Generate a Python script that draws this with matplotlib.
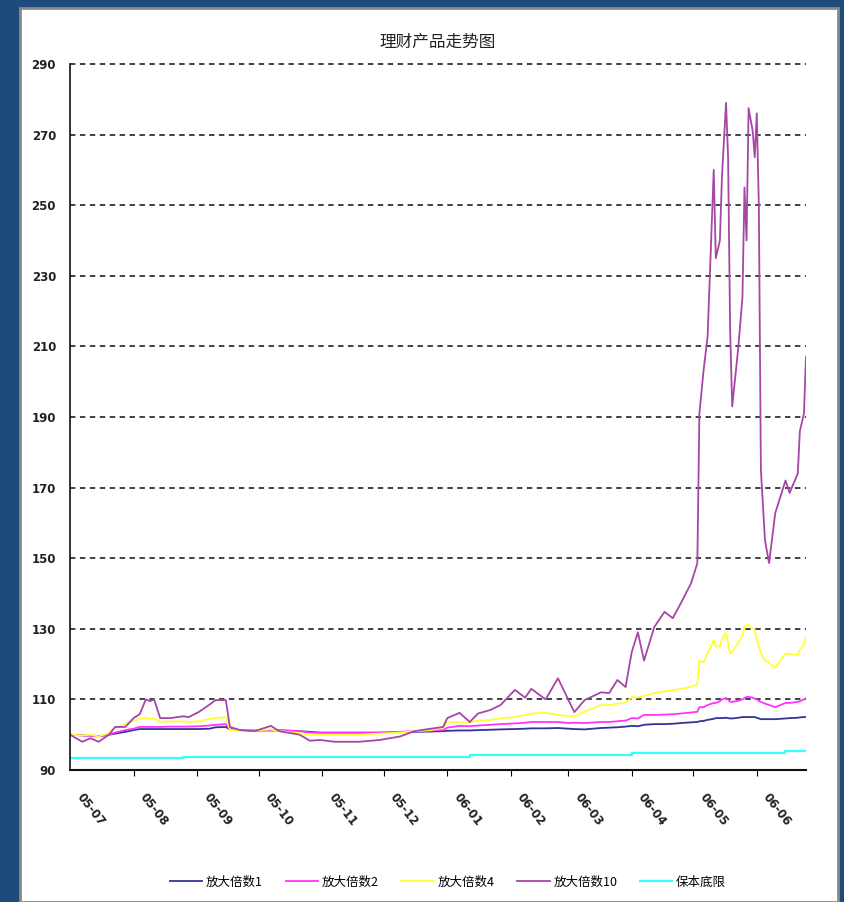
import matplotlib
matplotlib.use('Agg')
import matplotlib.pyplot as plt
from matplotlib.patches import Rectangle
import pandas as pd

# sample dates (date axis, 2005-07 .. 2006-06)
dates = ['2005-07-01', '2005-07-07', '2005-07-11', '2005-07-15', '2005-07-20', '2005-07-23',
         '2005-07-28', '2005-08-01', '2005-08-04', '2005-08-07', '2005-08-09', '2005-08-11',
         '2005-08-14', '2005-08-19', '2005-08-25', '2005-08-28', '2005-09-02', '2005-09-07',
         '2005-09-10', '2005-09-15', '2005-09-17', '2005-09-22', '2005-09-29', '2005-10-07',
         '2005-10-11', '2005-10-21', '2005-10-26', '2005-10-31', '2005-11-07', '2005-11-19',
         '2005-11-29', '2005-12-09', '2005-12-16', '2005-12-24', '2005-12-30', '2006-01-01',
         '2006-01-07', '2006-01-12', '2006-01-16', '2006-01-22', '2006-01-27', '2006-02-03',
         '2006-02-08', '2006-02-11', '2006-02-18', '2006-02-24', '2006-03-01', '2006-03-04',
         '2006-03-09', '2006-03-17', '2006-03-21', '2006-03-25', '2006-03-29', '2006-04-01',
         '2006-04-04', '2006-04-07', '2006-04-12', '2006-04-17', '2006-04-21', '2006-04-25',
         '2006-04-30', '2006-05-03', '2006-05-04', '2006-05-06', '2006-05-08', '2006-05-11',
         '2006-05-12', '2006-05-14', '2006-05-15', '2006-05-17', '2006-05-18', '2006-05-19',
         '2006-05-20', '2006-05-23', '2006-05-25', '2006-05-26', '2006-05-27', '2006-05-28',
         '2006-05-30', '2006-05-31', '2006-06-01', '2006-06-02', '2006-06-03', '2006-06-05',
         '2006-06-07', '2006-06-10', '2006-06-15', '2006-06-17', '2006-06-21', '2006-06-22',
         '2006-06-24', '2006-06-25']

lev1 = [100, 99.8, 99.8, 99.6, 100, 100.3, 100.8, 101.3, 101.6, 101.6, 101.6, 101.6,
        101.6, 101.6, 101.6, 101.6, 101.6, 101.7, 102.1, 102.2, 101.5, 101.3, 101.2, 101.2,
        101.2, 101, 100.8, 100.6, 100.6, 100.6, 100.6, 100.7, 100.8, 100.9, 101, 101.1,
        101.2, 101.2, 101.3, 101.4, 101.5, 101.6, 101.7, 101.8, 101.8, 101.9, 101.7, 101.6,
        101.5, 101.9, 102, 102.1, 102.3, 102.5, 102.4, 102.8, 103, 103, 103.1, 103.3,
        103.5, 103.6, 103.8, 103.9, 104.2, 104.5, 104.7, 104.7, 104.7, 104.8, 104.7, 104.6,
        104.6, 104.8, 105, 105, 105, 105, 105, 105, 104.8, 104.6, 104.4, 104.4,
        104.4, 104.4, 104.6, 104.7, 104.8, 104.9, 105, 105]

lev2 = [100, 99.8, 99.7, 99.5, 100, 100.6, 101.3, 101.7, 102.2, 102.2, 102.2, 102.2,
        102.2, 102.3, 102.3, 102.3, 102.4, 102.6, 102.8, 103, 101.6, 101.3, 101.3, 101.3,
        101.3, 101, 100.6, 100.5, 100.5, 100.5, 100.5, 100.8, 101, 101.2, 101.3, 102,
        102.5, 102.4, 102.6, 102.8, 103, 103.2, 103.4, 103.6, 103.6, 103.6, 103.3, 103.4,
        103.3, 103.6, 103.6, 103.8, 104, 104.7, 104.6, 105.6, 105.6, 105.7, 105.8, 106,
        106.3, 106.5, 107.8, 107.8, 108.4, 109, 109, 109.5, 110, 110.4, 110, 109.3,
        109.3, 109.6, 110, 110.4, 110.7, 110.7, 110.5, 110.2, 110, 109.6, 109.3, 108.8,
        108.4, 107.8, 109, 109, 109.3, 109.5, 110, 110.4]

lev4 = [100, 99.8, 100, 99.5, 100.5, 102, 103, 104, 104.5, 104.7, 104.5, 104.7,
        103.6, 103.8, 103.8, 103.6, 103.8, 104.5, 104.7, 105, 101.3, 101.2, 101.2, 101.5,
        101, 100.5, 100, 100, 100, 100, 100.3, 100.6, 101, 101.3, 102, 103.6,
        103.6, 103.4, 104, 104.2, 104.6, 105, 105.6, 106, 106.2, 105.6, 105.3, 105.2,
        106.5, 108.4, 108.4, 108.8, 109, 110.7, 110.5, 111, 111.8, 112.3, 112.6, 113,
        113.6, 114.3, 121, 120.5, 123, 126.8, 125, 125, 127, 129, 126, 123,
        123.5, 126, 128, 130.5, 131, 131, 130, 129.7, 127, 125, 123, 121,
        120.3, 119, 123, 122.8, 122.6, 124, 125.5, 128]

lev10 = [100, 98, 99, 98, 100, 102.2, 102.2, 104.7, 105.8, 110, 109.5, 110,
         104.7, 104.7, 105.2, 105, 106.5, 108.5, 109.8, 109.8, 102.2, 101.3, 101, 102.5,
         101, 100, 98.3, 98.5, 98, 98, 98.5, 99.5, 101, 101.7, 102.2, 104.7,
         106.2, 103.6, 106, 107, 108.4, 112.7, 110.5, 113, 110, 116, 110, 106.4,
         109.8, 112, 111.8, 115.5, 113.5, 123.4, 129, 121, 130.5, 134.8, 133, 137.3,
         143, 148.6, 191, 203, 212.7, 260, 235, 240, 258, 279, 263.6, 214.6,
         193, 209.8, 224, 255, 240, 277.5, 271, 263.6, 276, 249.5, 175, 155,
         148.6, 162.8, 172, 168.5, 174, 186, 191, 207]

floor_ = [93.3, 93.3, 93.3, 93.3, 93.3, 93.3, 93.3, 93.3, 93.3, 93.3, 93.3, 93.3,
          93.3, 93.3, 93.6, 93.6, 93.6, 93.6, 93.6, 93.6, 93.6, 93.6, 93.6, 93.6,
          93.6, 93.6, 93.6, 93.6, 93.6, 93.6, 93.6, 93.6, 93.6, 93.6, 93.6, 93.6,
          93.6, 94.2, 94.2, 94.2, 94.2, 94.2, 94.2, 94.2, 94.2, 94.2, 94.2, 94.2,
          94.2, 94.2, 94.2, 94.2, 94.2, 94.7, 94.7, 94.7, 94.7, 94.7, 94.7, 94.7,
          94.7, 94.7, 94.7, 94.7, 94.7, 94.7, 94.7, 94.7, 94.7, 94.7, 94.7, 94.7,
          94.7, 94.7, 94.7, 94.7, 94.7, 94.7, 94.7, 94.7, 94.7, 94.7, 94.7, 94.7,
          94.7, 94.7, 95.3, 95.3, 95.3, 95.3, 95.3, 95.3]

series_names = ['放大倍数1', '放大倍数2', '放大倍数4', '放大倍数10', '保本底限']
series_colors = ['#33339a', '#ff33ff', '#ffff33', '#a646a6', '#33ffff']
month_labels = ['05-07', '05-08', '05-09', '05-10', '05-11', '05-12',
                '06-01', '06-02', '06-03', '06-04', '06-05', '06-06']
yticks = list(range(90, 291, 20))

plt.rcParams['font.family'] = ['Noto Sans CJK SC', 'DejaVu Sans']

x = pd.to_datetime(dates)
fig = plt.figure(figsize=(8.45, 9.02), dpi=100, facecolor='#1f4a7c')
fig.add_artist(Rectangle((20/845, 0), 818/845, 894/902, transform=fig.transFigure,
                         facecolor='white', edgecolor='#8a8a8a', lw=2, zorder=0))
ax = fig.add_axes([70/845, 1-770/902, 736/845, 706/902])
ax.set_facecolor('none')

data = [lev1, lev2, lev4, lev10, floor_]
for vals, name, col in zip(data, series_names, series_colors):
    if name == '保本底限':
        ax.plot(x, vals, color=col, lw=1.6, label=name, drawstyle='steps-post')
    else:
        ax.plot(x, vals, color=col, lw=1.3, label=name)

ax.set_ylim(90, 290)
ax.set_xlim(x[0], x[-1])
ax.set_yticks(yticks)
ax.yaxis.grid(True, linestyle=(0, (3, 2.5)), color='#333333', lw=1.3)
for g in ax.get_ygridlines():
    g.set_clip_on(False)
ax.set_axisbelow(True)
ax.tick_params(axis='y', length=0, pad=10, labelsize=8.5)
for t in ax.get_yticklabels():
    t.set_family('DejaVu Sans')
    t.set_fontweight('bold')
    t.set_color('#222222')

month_starts = pd.date_range('2005-08-01', '2006-06-01', freq='MS')
label_pos = [pd.Timestamp('20%s-%s-11' % (m[:2], m[3:])) for m in month_labels]
ax.set_xticks(month_starts)
ax.set_xticks(label_pos, minor=True)
ax.set_xticklabels(month_labels, minor=True)
ax.tick_params(axis='x', which='major', length=4, direction='out', labelbottom=False)
ax.tick_params(axis='x', which='minor', length=0, pad=15, labelsize=8.5)
for t in ax.get_xticklabels(minor=True):
    t.set_rotation(-52)
    t.set_ha('center')
    t.set_va('top')
    t.set_family('DejaVu Sans')
    t.set_fontweight('bold')
    t.set_color('#222222')

for s in ['top', 'right']:
    ax.spines[s].set_visible(False)
ax.spines['left'].set_color('#111111')
ax.spines['bottom'].set_color('#111111')
ax.spines['left'].set_linewidth(1.2)
ax.spines['bottom'].set_linewidth(1.5)

fig.text(438/845, 1-42/902, '理财产品走势图', ha='center', va='center', fontsize=12,
         color='#222222')

fig.legend(loc='center', bbox_to_anchor=(448/845, 1-882/902), ncol=5, frameon=False,
           fontsize=9, handlelength=2.6, columnspacing=1.8, handletextpad=0.3)

fig.savefig('out.png', dpi=100, facecolor=fig.get_facecolor())
